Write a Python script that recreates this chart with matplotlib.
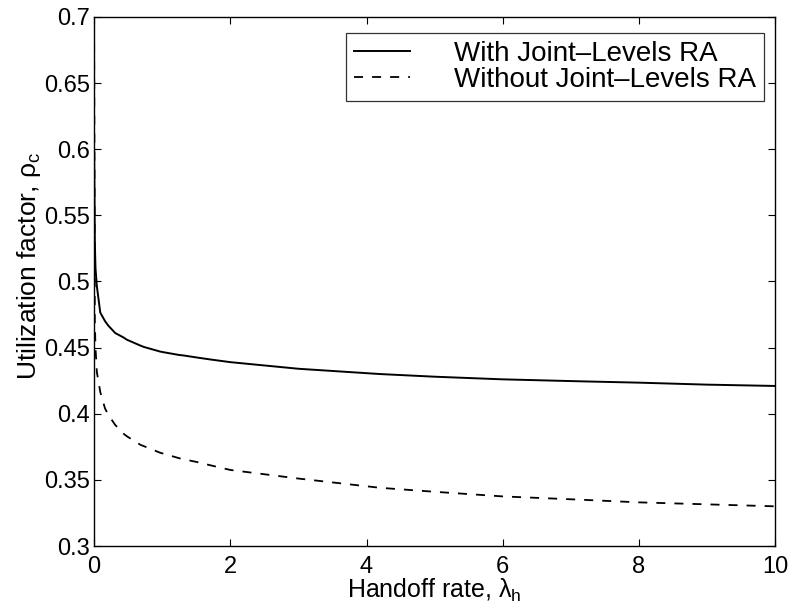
import matplotlib

matplotlib.use("Agg")
import matplotlib.pyplot as plt  # noqa: E402

# Values.
handoff_rate = [0.0, 0.01, 0.02, 0.04, 0.09, 0.16, 0.21, 0.31, 0.43, 0.48, 0.68,
                0.73, 0.97, 1.02, 1.24, 1.32, 1.51, 1.71, 2.0, 3.0, 4.2, 5.0,
                6.0, 7.15, 8.0, 9.0, 10.0]
with_joint = [0.60, 0.53, 0.51, 0.4965, 0.4765, 0.470, 0.4665, 0.461, 0.4577,
              0.456, 0.4515, 0.4505, 0.447, 0.4465, 0.4445, 0.444, 0.4425,
              0.441, 0.439, 0.434, 0.430, 0.428, 0.426, 0.4245, 0.4235,
              0.422, 0.421]
without_joint = [0.68, 0.47, 0.45, 0.4315, 0.4165, 0.404, 0.399, 0.3915, 0.385,
                 0.383, 0.3765, 0.3755, 0.3705, 0.3698, 0.3665, 0.3655, 0.3635,
                 0.361, 0.3575, 0.351, 0.344, 0.341, 0.3375, 0.335, 0.333,
                 0.3315, 0.330]

x_ticks = [0, 2, 4, 6, 8, 10]
y_ticks = [0.3, 0.35, 0.4, 0.45, 0.5, 0.55, 0.6, 0.65, 0.7]
y_tick_labels = ["0.3", "0.35", "0.4", "0.45", "0.5", "0.55", "0.6", "0.65", "0.7"]

plt.rcParams["font.family"] = ["Liberation Sans", "DejaVu Sans"]
plt.rcParams["mathtext.fontset"] = "custom"
plt.rcParams["mathtext.rm"] = "Liberation Sans"
plt.rcParams["mathtext.it"] = "Liberation Sans"

fig = plt.figure(figsize=(7.91, 6.04), dpi=100)
ax = fig.add_axes([0.119, 0.096, 0.861, 0.876])

ax.plot(handoff_rate, with_joint, color="black", linewidth=1.4,
        label="With Joint\u2013Levels RA")
ax.plot(handoff_rate, without_joint, color="black", linewidth=1.3,
        linestyle=(0, (5, 5)), label="Without Joint\u2013Levels RA")

ax.set_xlim(0, 10)
ax.set_ylim(0.3, 0.7)
ax.set_xticks(x_ticks)
ax.set_yticks(y_ticks)
ax.set_yticklabels(y_tick_labels)
ax.tick_params(direction="in", length=5, width=0.8, labelsize=17,
               top=True, right=True)
ax.tick_params(axis="x", pad=7)
ax.tick_params(axis="y", pad=3)
for spine in ax.spines.values():
    spine.set_linewidth(1.0)

ax.set_xlabel(r"Handoff rate, $\lambda_h$", fontsize=18, labelpad=-1)
ax.set_ylabel(r"Utilization factor, $\rho_c$", fontsize=19)
ax.yaxis.set_label_coords(-0.075, 0.53)

leg = ax.legend(loc="upper right", fontsize=20, frameon=True, fancybox=False,
                edgecolor="black", handlelength=2.0, handletextpad=1.6,
                borderpad=0.3, borderaxespad=0.0, labelspacing=0.0,
                bbox_to_anchor=(0.984, 0.970))
leg.get_frame().set_linewidth(0.9)

fig.savefig("out.png", dpi=100)
plt.close(fig)
